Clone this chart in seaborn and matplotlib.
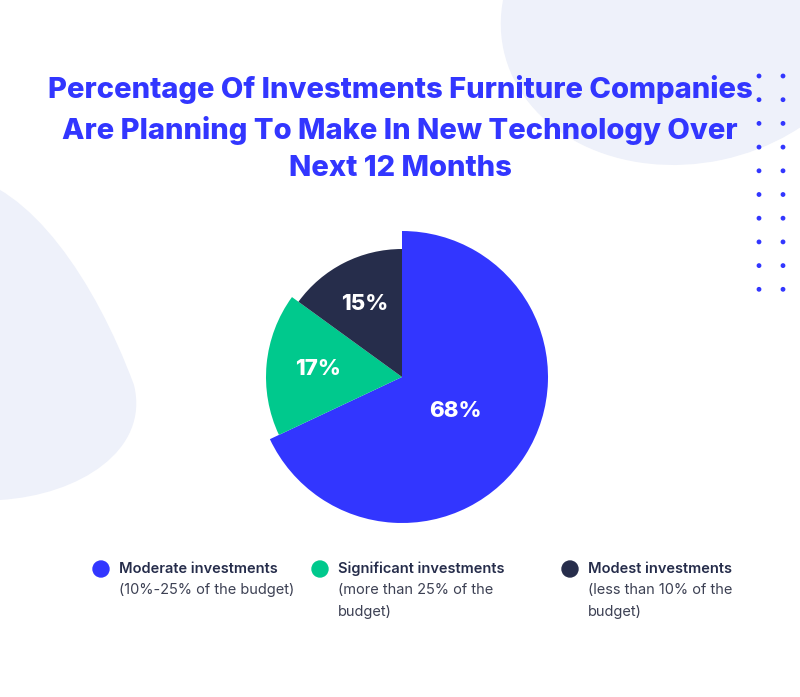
import numpy as np
import matplotlib
matplotlib.use("Agg")
import matplotlib.pyplot as plt
from matplotlib.patches import Circle, Ellipse, PathPatch
from matplotlib.path import Path
import seaborn as sns

# data
categories = ["Moderate investments", "Significant investments", "Modest investments"]
subtitles = ["(10%-25% of the budget)", "(more than 25% of the\nbudget)", "(less than 10% of the\nbudget)"]
shares = [68, 17, 15]
radii = [146, 136, 128]
title = "Percentage Of Investments Furniture Companies\nAre Planning To Make In New Technology Over\nNext 12 Months"

sns.set_theme(style="white")
plt.rcParams['font.family'] = ['Inter', 'DejaVu Sans']
colors = sns.color_palette(["#3236ff", "#00c98d", "#262d4b"])

W, H = 800, 697
fig = plt.figure(figsize=(8, 6.97), dpi=100)
ax = fig.add_axes([0, 0, 1, 1])

# background decorations
bg = "#eef1fa"
ax.add_patch(Ellipse((690, H - 10), 380, 305, angle=12, color=bg, zorder=0))
blob = [(-40, 175), (30, 185), (95, 280), (134, 385),
        (150, 450), (80, 495), (0, 500), (-40, 500), (-40, 175)]
codes = [Path.MOVETO, Path.CURVE4, Path.CURVE4, Path.CURVE4,
         Path.CURVE4, Path.CURVE4, Path.CURVE4, Path.LINETO, Path.CLOSEPOLY]
blob = [(x, H - y) for x, y in blob]
ax.add_patch(PathPatch(Path(blob, codes), facecolor=bg, edgecolor="none", zorder=0))
for cx in [759, 783]:
    for cy in np.arange(76, 290, 23.7):
        ax.add_patch(Circle((cx, H - cy), 1.7, color="#3236ff", zorder=1))

# title
ax.text(400, H - 129, title, ha="center", va="center", fontsize=21,
        fontweight="heavy", color="#3236ff", linespacing=1.5, zorder=3)

# variable radius pie
center = (402, H - 377)
wedges, _ = ax.pie(shares, colors=colors, startangle=90, counterclock=False,
                   center=center, radius=radii[0], frame=True,
                   wedgeprops=dict(linewidth=0))
for w, r in zip(wedges, radii):
    w.set_radius(r)
    w.set_zorder(2)

label_frac = [0.43, 0.62, 0.64]
for w, r, f, v in zip(wedges, radii, label_frac, shares):
    mid = np.deg2rad((w.theta1 + w.theta2) / 2)
    x = center[0] + r * f * np.cos(mid)
    y = center[1] + r * f * np.sin(mid)
    ax.text(x, y, f"{v}%", ha="center", va="center", color="white",
            fontsize=16, fontweight="heavy", zorder=3)

ax.set_xlim(0, W)
ax.set_ylim(0, H)
ax.set_aspect("equal")
ax.axis("off")

# legend
leg_x = [101, 320, 570]
for lx, c, name, sub in zip(leg_x, colors, categories, subtitles):
    ax.add_patch(Circle((lx, H - 569), 8, color=c, zorder=3))
    ax.text(lx + 18, H - 569, name, ha="left", va="center", fontsize=10.5,
            fontweight="semibold", color="#262d4b", zorder=3)
    ax.text(lx + 18, H - 583, sub, ha="left", va="top", fontsize=10.5,
            color="#3d4154", linespacing=1.75, zorder=3)

fig.savefig("out.png", dpi=100, facecolor="white")
